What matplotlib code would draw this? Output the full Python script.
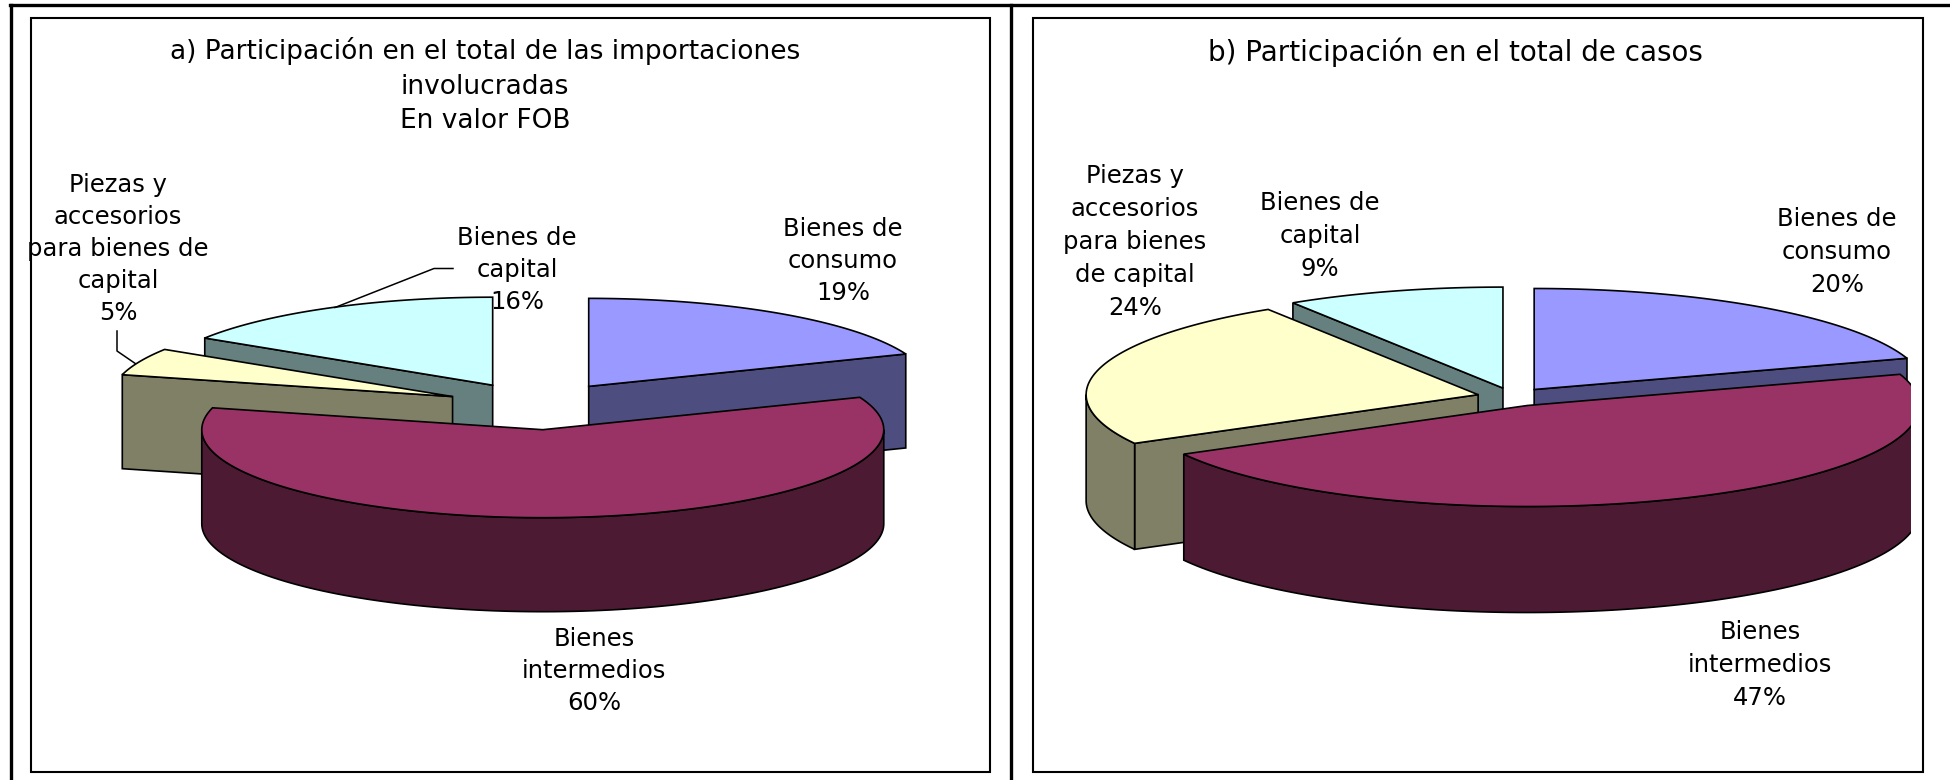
import numpy as np
import matplotlib
matplotlib.use('Agg')
import matplotlib.pyplot as plt
from matplotlib.patches import Polygon, Rectangle

# Data
categorias = ['Bienes de\nconsumo', 'Bienes\nintermedios',
              'Piezas y\naccesorios\npara bienes de\ncapital', 'Bienes de\ncapital']
categorias_b = ['Bienes de\nconsumo', 'Bienes\nintermedios',
                'Piezas y\naccesorios\npara bienes\nde capital', 'Bienes de\ncapital']
valores_a = [19, 60, 5, 16]
valores_b = [20, 47, 24, 9]

titulo_a = 'a) Participación en el total de las importaciones\ninvolucradas\nEn valor FOB'
titulo_b = 'b) Participación en el total de casos'

# Colours: top face, side face
color_top = ['#9999FF', '#993366', '#FFFFCC', '#CCFFFF']
color_side = ['#4D4D80', '#4D1A33', '#808066', '#668080']

EDGE = 1.2


def arc(cx, cy, a, b, t1, t2, n=120):
    # angles in degrees, clockwise from 12 o'clock
    t = np.radians(np.linspace(t1, t2, n))
    return np.column_stack([cx + a * np.sin(t), cy - b * np.cos(t)])


def draw_pie(ax, valores, cx, cy, a, b, explode, depth, clip=None):
    total = sum(valores)
    bounds = np.concatenate([[0], np.cumsum(valores)]) * 360.0 / total
    mids = (bounds[:-1] + bounds[1:]) / 2
    # back slices first
    order = np.argsort(-np.cos(np.radians(mids)))

    def add(pts, color, z):
        p = Polygon(pts, closed=True, fc=color, ec='black', lw=EDGE, zorder=z)
        ax.add_patch(p)
        if clip is not None:
            p.set_clip_path(clip)

    for z, i in enumerate(order):
        z = z + 2
        t1, t2 = bounds[i], bounds[i + 1]
        mid = np.radians(mids[i])
        x0 = cx + explode * np.sin(mid)
        y0 = cy - explode * (b / a) * np.cos(mid)
        # radial faces
        for t, visible in ((t1, np.sin(np.radians(t1)) < -1e-6), (t2, np.sin(np.radians(t2)) > 1e-6)):
            if visible:
                rim = arc(x0, y0, a, b, t, t, 1)[0]
                add([(x0, y0), rim, (rim[0], rim[1] + depth), (x0, y0 + depth)], color_side[i], z)
        # outer wall, only the part that looks to the front
        w1, w2 = max(t1, 90), min(t2, 270)
        if w2 > w1:
            top = arc(x0, y0, a, b, w1, w2)
            bottom = top[::-1] + [0, depth]
            add(np.vstack([top, bottom]), color_side[i], z)
        # top face
        add(np.vstack([[x0, y0], arc(x0, y0, a, b, t1, t2)]), color_top[i], z)


fig = plt.figure(figsize=(19.5, 7.8), dpi=100)
ax = fig.add_axes([0, 0, 1, 1])
ax.set_xlim(0, 1950)
ax.set_ylim(780, 0)
ax.axis('off')

# Frames
ax.plot([11, 11], [5, 780], color='black', lw=2.4, zorder=1)
ax.plot([1011, 1011], [5, 780], color='black', lw=2.4, zorder=1)
ax.plot([10, 1950], [5, 5], color='black', lw=2.4, zorder=1)
ax.add_patch(Rectangle((31, 18), 959, 754, fc='none', ec='black', lw=1.5, zorder=1))
ax.add_patch(Rectangle((1033, 18), 890, 754, fc='none', ec='black', lw=1.5, zorder=1))

draw_pie(ax, valores_a, cx=537, cy=406, a=341, b=88, explode=92, depth=94)
# right side of pie b is cut by the plot area
clip_b = Rectangle((1040, 200), 871, 500, transform=ax.transData)
draw_pie(ax, valores_b, cx=1513, cy=397, a=392, b=101, explode=36, depth=106, clip=clip_b)

ax.text(485, 85.5, titulo_a, ha='center', va='center', fontsize=19, linespacing=1.43, zorder=10)
ax.text(1455, 52, titulo_b, ha='center', va='center', fontsize=20, zorder=10)

# Slice labels
pos_a = [(843, 261), (594, 671), (118, 249), (517, 270)]
pos_b = [(1837, 252), (1760, 665), (1135, 242), (1320, 236)]
for nombre, v, (x, y) in zip(categorias, valores_a, pos_a):
    ax.text(x, y, f'{nombre}\n{v}%', ha='center', va='center', fontsize=17.5,
            linespacing=1.43, zorder=10)
for nombre, v, (x, y) in zip(categorias_b, valores_b, pos_b):
    ax.text(x, y, f'{nombre}\n{v}%', ha='center', va='center', fontsize=17.5,
            linespacing=1.48, zorder=10)

# Leader lines on panel a
ax.plot([335, 434, 453], [307.5, 268.5, 268.5], color='black', lw=1.1, zorder=9)
ax.plot([117, 117, 136], [331, 351, 364], color='black', lw=1.1, zorder=1)

fig.savefig('out.png', dpi=100)
